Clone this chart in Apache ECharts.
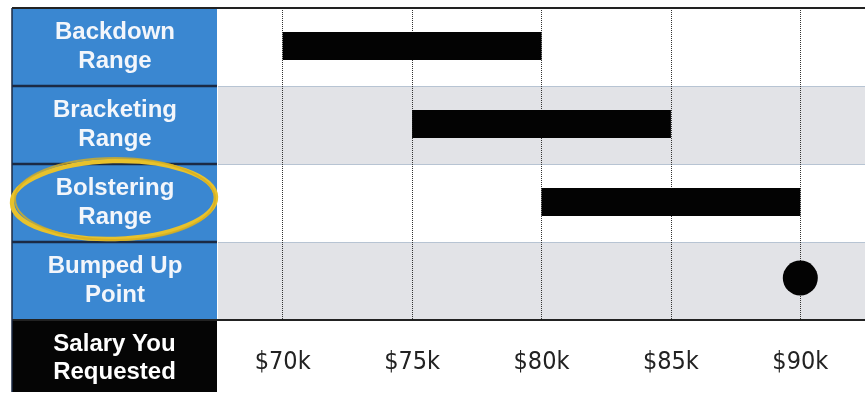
<!DOCTYPE html>
<html>
<head>
<meta charset="utf-8">
<script src="https://cdn.jsdelivr.net/npm/echarts@6/dist/echarts.min.js"></script>
<style>
html,body{margin:0;padding:0;background:#fff;}
#chart{width:865px;height:394px;}
</style>
</head>
<body>
<div id="chart"></div>
<script>
// ---- data ----
const categories = ['Backdown\nRange', 'Bracketing\nRange', 'Bolstering\nRange', 'Bumped Up\nPoint'];
const rangeCategories = [0, 1, 2];
const rangeStarts = [70, 75, 80];
const rangeEnds = [80, 85, 90];
const pointCategory = [3];
const pointValues = [90];
const tickValues = [70, 75, 80, 85, 90];
const tickLabels = ['$70k', '$75k', '$80k', '$85k', '$90k'];
const axisTitle = 'Salary You\nRequested';

const chart = echarts.init(document.getElementById('chart'), null, {renderer: 'canvas'});

const rangeData = rangeCategories.map((c, i) => [c, rangeStarts[i], rangeEnds[i]]);
const pointData = pointCategory.map((c, i) => [pointValues[i], c]);

const BLUE = '#3a87d1';
const LEFT = 12, COLR = 217, TOP = 8, BOT = 320, ROWH = 78;

const option = {
  animation: false,
  backgroundColor: '#ffffff',
  grid: {left: 218, right: 0, top: TOP, bottom: 394 - BOT, containLabel: false},
  xAxis: {
    type: 'value', min: 67.5, max: 92.5,
    axisLine: {show: false}, axisTick: {show: false}, splitLine: {show: false},
    axisLabel: {
      customValues: tickValues,
      formatter: v => tickLabels[tickValues.indexOf(v)],
      margin: 30, fontSize: 25, color: '#222222', lineHeight: 25,
      fontFamily: '"DejaVu Sans Condensed","Liberation Sans Narrow","DejaVu Sans",sans-serif'
    }
  },
  yAxis: {
    type: 'category', data: categories, inverse: true,
    axisLine: {show: false}, axisTick: {show: false},
    splitLine: {show: true, lineStyle: {color: '#b7c4d3', width: 1}},
    splitArea: {show: true, areaStyle: {color: ['#ffffff', '#e2e3e7']}},
    axisLabel: {
      interval: 0, align: 'center', margin: 103,
      fontSize: 24, fontWeight: 'bold', lineHeight: 29, color: '#f3f6fb',
      fontFamily: '"Liberation Sans",Arial,sans-serif'
    }
  },
  graphic: [
    {type: 'rect', z: -10, shape: {x: LEFT, y: TOP, width: COLR - LEFT, height: BOT - TOP}, style: {fill: BLUE}},
    {type: 'rect', z: -10, shape: {x: LEFT, y: BOT, width: COLR - LEFT, height: 72}, style: {fill: '#050505'}},
    {type: 'line', z: 20, shape: {x1: LEFT, y1: TOP + ROWH, x2: COLR, y2: TOP + ROWH}, style: {stroke: '#1b2a44', lineWidth: 2.5}},
    {type: 'line', z: 20, shape: {x1: LEFT, y1: TOP + 2 * ROWH, x2: COLR, y2: TOP + 2 * ROWH}, style: {stroke: '#1b2a44', lineWidth: 2.5}},
    {type: 'line', z: 20, shape: {x1: LEFT, y1: TOP + 3 * ROWH, x2: COLR, y2: TOP + 3 * ROWH}, style: {stroke: '#1b2a44', lineWidth: 2.5}},
    {type: 'line', z: 20, shape: {x1: LEFT, y1: TOP, x2: 865, y2: TOP}, style: {stroke: '#222', lineWidth: 2}},
    {type: 'line', z: 20, shape: {x1: LEFT, y1: BOT, x2: 865, y2: BOT}, style: {stroke: '#222', lineWidth: 2}},
    {type: 'line', z: 20, shape: {x1: LEFT, y1: TOP, x2: LEFT, y2: 392}, style: {stroke: '#1b2a44', lineWidth: 1.5}},
    {type: 'ellipse', z: 30, rotation: 0.03, originX: 114, originY: 200, shape: {cx: 114, cy: 200, rx: 102, ry: 39}, style: {fill: 'none', stroke: '#e8c22c', lineWidth: 4.5}},
    {type: 'ellipse', z: 30, shape: {cx: 115, cy: 199, rx: 100, ry: 41}, style: {fill: 'none', stroke: '#d4ae22', lineWidth: 2, opacity: 0.8}},
    {type: 'text', z: 30, x: 114.5, y: 358, style: {
      text: axisTitle, fill: '#ffffff', fontSize: 24, fontWeight: 'bold', lineHeight: 28,
      fontFamily: '"Liberation Sans",Arial,sans-serif', align: 'center', verticalAlign: 'middle'
    }}
  ],
  series: [
    {
      type: 'custom', z: 4,
      encode: {x: [1, 2], y: 0},
      data: rangeData,
      renderItem: function (params, api) {
        const cat = api.value(0);
        const s = api.coord([api.value(1), cat]);
        const e = api.coord([api.value(2), cat]);
        const h = 28;
        return {type: 'rect', shape: {x: s[0], y: s[1] - h / 2 - 1, width: e[0] - s[0], height: h}, style: {fill: '#030303'}};
      }
    },
    {
      type: 'scatter', z: 4,
      data: pointData,
      symbol: 'circle', symbolSize: 35, symbolOffset: [0, -3],
      itemStyle: {color: '#030303', opacity: 1},
      markLine: {
        silent: true, symbol: 'none', z: 1,
        label: {show: false},
        lineStyle: {type: 'dotted', color: '#333', width: 1},
        data: tickValues.map(v => ({xAxis: v}))
      }
    }
  ]
};
chart.setOption(option);
</script>
</body>
</html>
